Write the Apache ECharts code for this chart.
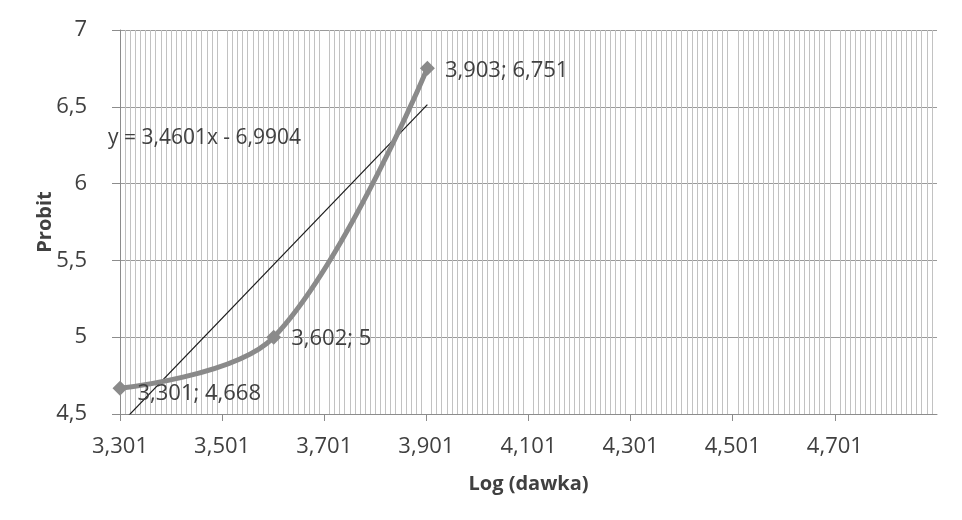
<!DOCTYPE html>
<html>
<head>
<meta charset="utf-8">
<script src="https://cdn.jsdelivr.net/npm/echarts@6/dist/echarts.min.js"></script>
<style>
  html, body { margin: 0; padding: 0; background: #fff; }
  #chart { width: 962px; height: 520px; }
</style>
</head>
<body>
<div id="chart"></div>
<script>
// Probit vs log(dose) measurements
const logDose = [3.301, 3.602, 3.903];
const probit = [4.668, 5, 6.751];

// Linear trendline coefficients
const slope = 3.4601;
const intercept = -6.9904;

// Axis settings
const xStart = 3.301;
const xSpan = 1.6;
const xStep = 0.2;
const yMin = 4.5, yMax = 7, yStep = 0.5;

const FONT = 'Open Sans';
const FS = 22;
const fmt = (v, d) => v.toFixed(d).replace('.', ',');
const trimNum = v => String(+v.toFixed(3)).replace('.', ',');

// x axis runs on an offset scale so ticks land on 3.301 + k*0.2
const toAxis = x => +(x - xStart).toFixed(6);

const points = logDose.map((x, i) => ({
  value: [toAxis(x), probit[i]],
  raw: [x, probit[i]],
  label: i === 0 ? { offset: [0, 6] } : undefined
}));
const trendX = [logDose[0], logDose[logDose.length - 1]];
const trend = trendX.map(x => [toAxis(x), slope * x + intercept]);

const chart = echarts.init(document.getElementById('chart'), null, { renderer: 'canvas' });
chart.setOption({
  animation: false,
  backgroundColor: '#ffffff',
  textStyle: { fontFamily: FONT },
  grid: { left: 120, right: 25, top: 30, bottom: 106, containLabel: false },
  xAxis: {
    type: 'value',
    min: 0,
    max: xSpan,
    interval: xStep,
    name: 'Log (dawka)',
    nameLocation: 'middle',
    nameGap: 60,
    nameTextStyle: { fontFamily: FONT, fontSize: 20, fontWeight: 'bold', color: '#404040' },
    axisLine: { show: true, lineStyle: { color: '#8c8c8c', width: 1 } },
    axisTick: { show: true, length: 7, lineStyle: { color: '#8c8c8c' } },
    axisLabel: {
      fontFamily: FONT, fontSize: FS, color: '#404040', margin: 22,
      showMaxLabel: false,
      formatter: v => fmt(v + xStart, 3)
    },
    splitLine: { show: false },
    minorTick: { show: false, splitNumber: 20 },
    minorSplitLine: { show: true, lineStyle: { color: '#c2c2c2', width: 1 } }
  },
  yAxis: {
    type: 'value',
    min: yMin,
    max: yMax,
    interval: yStep,
    name: 'Probit',
    nameLocation: 'middle',
    nameGap: 65,
    nameMoveOverlap: false,
    nameTextStyle: { fontFamily: FONT, fontSize: 20, fontWeight: 'bold', color: '#404040' },
    axisLine: { show: true, lineStyle: { color: '#8c8c8c', width: 1 } },
    axisTick: { show: true, length: 8, lineStyle: { color: '#8c8c8c' } },
    axisLabel: {
      fontFamily: FONT, fontSize: FS, color: '#404040', margin: 33,
      formatter: v => trimNum(v)
    },
    splitLine: { show: true, lineStyle: { color: '#9a9a9a', width: 1 } }
  },
  series: [
    {
      type: 'line',
      data: points,
      smooth: 0.35,
      symbol: 'diamond',
      symbolSize: 15,
      lineStyle: { color: '#8a8a8a', width: 5 },
      itemStyle: { color: '#8a8a8a' },
      label: {
        show: true,
        position: 'right',
        distance: 10,
        offset: [0, 2],
        fontFamily: FONT,
        fontSize: FS,
        color: '#404040',
        formatter: p => fmt(p.data.raw[0], 3) + '; ' + trimNum(p.data.raw[1])
      },
      z: 3
    },
    {
      type: 'line',
      data: trend,
      symbol: 'none',
      lineStyle: { color: '#1a1a1a', width: 1.2 },
      silent: true,
      z: 2
    }
  ],
  graphic: [
    {
      type: 'text',
      left: 108,
      top: 128,
      style: {
        text: 'y = ' + fmt(slope, 4) + 'x - ' + fmt(-intercept, 4),
        fontFamily: FONT,
        fontSize: 21,
        fill: '#404040'
      },
      z: 10
    }
  ]
});
</script>
</body>
</html>
